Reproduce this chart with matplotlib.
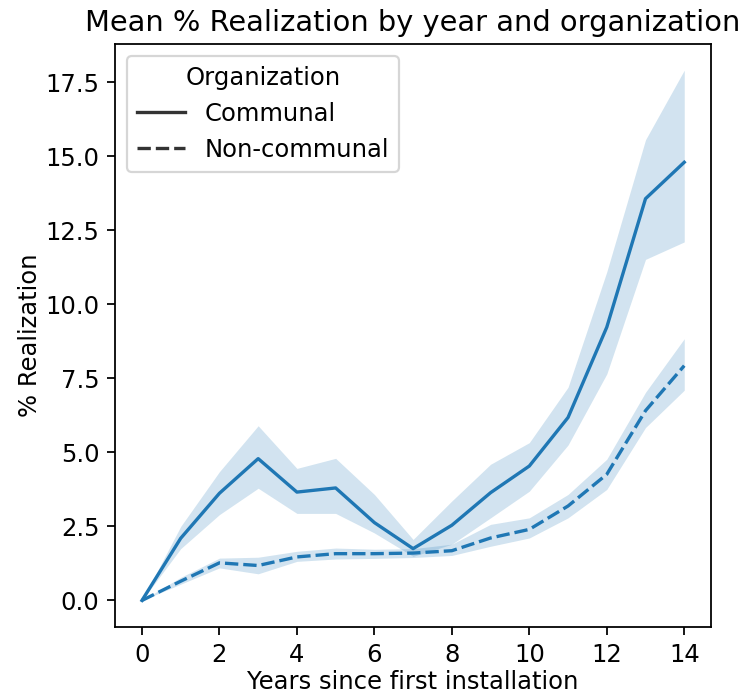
import numpy as np
from matplotlib import pyplot as plt
from matplotlib.lines import Line2D

years = list(range(15))

communal_mean = [0.0, 2.1, 3.62, 4.79, 3.66, 3.8, 2.63, 1.75, 2.54, 3.64, 4.54, 6.18, 9.23, 13.57, 14.8]
communal_lo = [0.0, 1.75, 2.9, 3.79, 2.94, 2.94, 2.28, 1.49, 1.9, 2.79, 3.69, 5.25, 7.65, 11.52, 12.11]
communal_hi = [0.0, 2.5, 4.35, 5.9, 4.46, 4.8, 3.58, 2.06, 3.36, 4.6, 5.33, 7.2, 11.1, 15.56, 17.91]

noncomm_mean = [0.0, 0.65, 1.27, 1.18, 1.47, 1.58, 1.58, 1.6, 1.68, 2.11, 2.4, 3.19, 4.26, 6.41, 7.93]
noncomm_lo = [0.0, 0.55, 1.1, 0.9, 1.32, 1.4, 1.42, 1.45, 1.52, 1.83, 2.11, 2.79, 3.75, 5.84, 7.1]
noncomm_hi = [0.0, 0.78, 1.43, 1.46, 1.66, 1.77, 1.73, 1.75, 1.9, 2.57, 2.79, 3.58, 4.77, 7.03, 8.84]

blue = '#1f77b4'

plt.rcParams['font.size'] = 10.9
plt.rcParams['axes.titlesize'] = 13

fig = plt.figure(figsize=(741/160, 696/160), dpi=160)
ax = fig.add_axes([0.155, 0.099, 0.805, 0.838])

ax.fill_between(years, communal_lo, communal_hi, color=blue, alpha=0.2, linewidth=0)
ax.plot(years, communal_mean, color=blue, lw=1.5)
ax.fill_between(years, noncomm_lo, noncomm_hi, color=blue, alpha=0.2, linewidth=0)
ax.plot(years, noncomm_mean, color=blue, lw=1.5, dashes=(4, 1.5))

ax.set_xticks(range(0, 15, 2))
ax.set_yticks(np.arange(0, 18, 2.5))
ax.set_xlim(-0.7, 14.7)
ax.set_ylim(-0.9, 18.8)

ax.set_title('Mean % Realization by year and organization')
ax.set_xlabel('Years since first installation', labelpad=1.5)
ax.set_ylabel('% Realization', labelpad=1.5)

handles = [Line2D([], [], color='.2', lw=1.5),
           Line2D([], [], color='.2', lw=1.5, dashes=(4, 1.5))]
ax.legend(handles, ['Communal', 'Non-communal'], title='Organization', loc='upper left')

fig.savefig('out.png', dpi=160)
